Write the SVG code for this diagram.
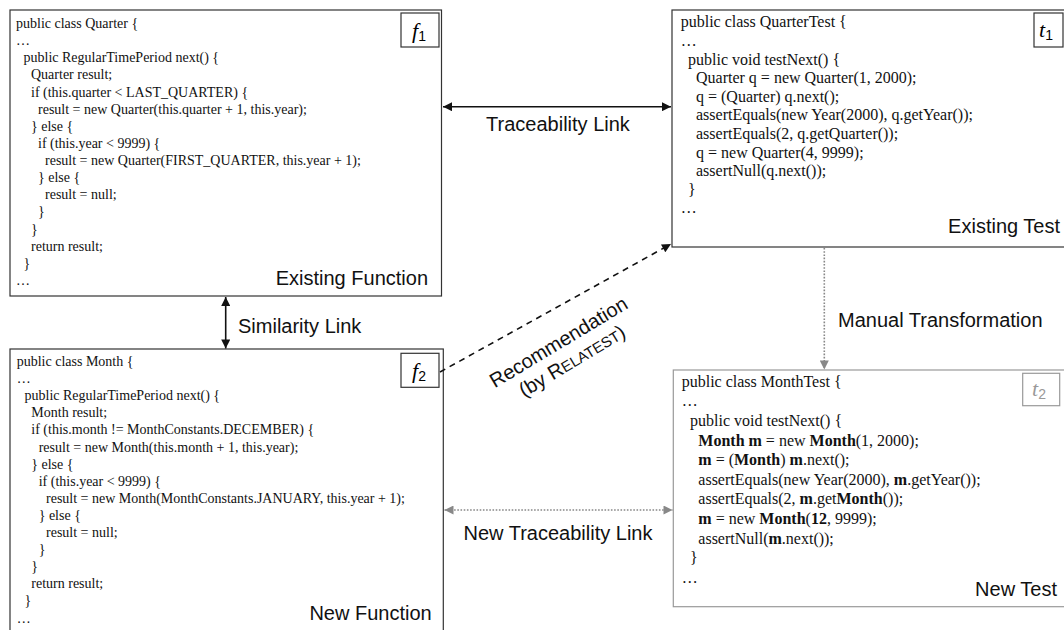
<svg xmlns="http://www.w3.org/2000/svg" width="1064" height="630" viewBox="0 0 1064 630">
<defs>
<style>
.code{font-family:"Liberation Serif","Times New Roman",serif;font-size:14px;fill:#111;}
.code16{font-family:"Liberation Serif","Times New Roman",serif;font-size:16px;fill:#111;}
.b{font-weight:bold;}
.lbl{font-family:"Liberation Sans",Arial,sans-serif;font-size:20px;fill:#111;}
.box{fill:#fff;stroke:#333;stroke-width:1.2;}
.gbox{fill:#fff;stroke:#999;stroke-width:1.2;}
.tag{fill:#fff;stroke:#333;stroke-width:1.2;}
.gtag{fill:#fff;stroke:#999;stroke-width:1.2;}
.mi{font-family:"Liberation Serif","Times New Roman",serif;font-style:italic;font-size:22px;}
.sub{font-family:"Liberation Sans",Arial,sans-serif;font-style:normal;font-size:14px;}
.solid{stroke:#111;stroke-width:1.6;fill:none;}
.dash{stroke:#111;stroke-width:1.6;fill:none;stroke-dasharray:6 5;}
.dot{stroke:#888;stroke-width:1.6;fill:none;stroke-dasharray:1.6 1.6;}
</style>
<marker id="ah" viewBox="0 0 10 10" refX="10" refY="5" markerWidth="10" markerHeight="9" markerUnits="userSpaceOnUse" orient="auto-start-reverse"><path d="M0,0 L10,5 L0,10 z" fill="#111"/></marker>
<marker id="ahg" viewBox="0 0 10 10" refX="10" refY="5" markerWidth="10" markerHeight="9" markerUnits="userSpaceOnUse" orient="auto-start-reverse"><path d="M0,0 L10,5 L0,10 z" fill="#888"/></marker>
</defs>
<rect width="1064" height="630" fill="#fff"/>

<g id="f1">
<rect class="box" x="10" y="10" width="431.5" height="286"/>
<rect class="tag" x="401" y="13" width="38" height="34"/>
<text x="412" y="38" class="mi">f<tspan class="sub" dy="3">1</tspan></text>
<g class="code">
<text x="16" y="28">public class Quarter {</text>
<text x="16" y="45.1">…</text>
<text x="23.5" y="62.3">public RegularTimePeriod next() {</text>
<text x="31" y="79.4">Quarter result;</text>
<text x="31" y="96.5">if (this.quarter &lt; LAST_QUARTER) {</text>
<text x="38" y="113.7">result = new Quarter(this.quarter + 1, this.year);</text>
<text x="31" y="130.8">} else {</text>
<text x="38" y="147.9">if (this.year &lt; 9999) {</text>
<text x="45" y="165">result = new Quarter(FIRST_QUARTER, this.year + 1);</text>
<text x="38" y="182.2">} else {</text>
<text x="45" y="199.3">result = null;</text>
<text x="38" y="216.4">}</text>
<text x="31" y="233.6">}</text>
<text x="31" y="250.7">return result;</text>
<text x="23.5" y="267.8">}</text>
<text x="16" y="285">…</text>
</g>
<text class="lbl" x="428" y="285" text-anchor="end">Existing Function</text>
</g>

<g id="t1">
<rect class="box" x="672" y="10" width="400" height="237"/>
<rect class="tag" x="1034" y="13" width="29" height="34"/>
<text x="1039" y="37" class="mi">t<tspan class="sub" dy="3">1</tspan></text>
<g class="code16">
<text x="680.7" y="27.3">public class QuarterTest {</text>
<text x="680.7" y="45.9">…</text>
<text x="688" y="64.5">public void testNext() {</text>
<text x="696" y="83.1">Quarter q = new Quarter(1, 2000);</text>
<text x="696" y="101.7">q = (Quarter) q.next();</text>
<text x="696" y="120.3">assertEquals(new Year(2000), q.getYear());</text>
<text x="696" y="138.9">assertEquals(2, q.getQuarter());</text>
<text x="696" y="157.5">q = new Quarter(4, 9999);</text>
<text x="696" y="176.1">assertNull(q.next());</text>
<text x="688" y="194.7">}</text>
<text x="680.7" y="213.3">…</text>
</g>
<text class="lbl" x="1060" y="233" text-anchor="end">Existing Test</text>
</g>

<g id="f2">
<rect class="box" x="10" y="349" width="433.3" height="300"/>
<rect class="tag" x="401" y="353.3" width="38" height="34"/>
<text x="412" y="378" class="mi">f<tspan class="sub" dy="3">2</tspan></text>
<g class="code">
<text x="16.7" y="366">public class Month {</text>
<text x="16.7" y="383.1">…</text>
<text x="24.5" y="400.2">public RegularTimePeriod next() {</text>
<text x="31.3" y="417.3">Month result;</text>
<text x="31.3" y="434.4">if (this.month != MonthConstants.DECEMBER) {</text>
<text x="38.7" y="451.5">result = new Month(this.month + 1, this.year);</text>
<text x="31.3" y="468.6">} else {</text>
<text x="38.7" y="485.7">if (this.year &lt; 9999) {</text>
<text x="46" y="502.8">result = new Month(MonthConstants.JANUARY, this.year + 1);</text>
<text x="38.7" y="519.9">} else {</text>
<text x="46" y="537">result = null;</text>
<text x="38.7" y="554.1">}</text>
<text x="31.3" y="571.2">}</text>
<text x="31.3" y="588.3">return result;</text>
<text x="24.5" y="605.4">}</text>
<text x="16.7" y="622.5">…</text>
</g>
<text class="lbl" x="431.7" y="620" text-anchor="end">New Function</text>
</g>

<g id="t2">
<rect class="gbox" x="673.3" y="370" width="400" height="236.7"/>
<rect class="gtag" x="1022.7" y="373.3" width="37" height="32.4"/>
<text x="1032" y="396" class="mi" fill="#999">t<tspan class="sub" dy="3">2</tspan></text>
<g class="code16">
<text x="681.7" y="386.7">public class MonthTest {</text>
<text x="681.7" y="406.3">…</text>
<text x="690" y="425.9">public void testNext() {</text>
<text x="698.3" y="445.5"><tspan class="b">Month m</tspan> = new <tspan class="b">Month</tspan>(1, 2000);</text>
<text x="698.3" y="465.1"><tspan class="b">m</tspan> = (<tspan class="b">Month</tspan>) <tspan class="b">m</tspan>.next();</text>
<text x="698.3" y="484.7">assertEquals(new Year(2000), <tspan class="b">m</tspan>.getYear());</text>
<text x="698.3" y="504.3">assertEquals(2, <tspan class="b">m</tspan>.get<tspan class="b">Month</tspan>());</text>
<text x="698.3" y="523.9"><tspan class="b">m</tspan> = new <tspan class="b">Month</tspan>(<tspan class="b">12</tspan>, 9999);</text>
<text x="698.3" y="543.5">assertNull(<tspan class="b">m</tspan>.next());</text>
<text x="690" y="563.1">}</text>
<text x="681.7" y="582.7">…</text>
</g>
<text class="lbl" x="1057" y="596" text-anchor="end">New Test</text>
</g>

<g id="connectors">
<line class="solid" x1="443" y1="106.7" x2="671" y2="106.7" marker-start="url(#ah)" marker-end="url(#ah)"/>
<text class="lbl" x="558" y="131" text-anchor="middle">Traceability Link</text>
<line class="solid" x1="225.7" y1="297" x2="225.7" y2="348.5" marker-start="url(#ah)" marker-end="url(#ah)"/>
<text class="lbl" x="238" y="333">Similarity Link</text>
<line class="dash" x1="440" y1="372" x2="671" y2="244" marker-end="url(#ah)"/>
<g transform="translate(562,348) rotate(-31)">
<text class="lbl" x="0" y="0" text-anchor="middle">Recommendation</text>
<text class="lbl" x="2" y="23" text-anchor="middle">(by R<tspan font-size="15">ELATEST</tspan>)</text>
</g>
<line class="dot" x1="824.3" y1="248" x2="824.3" y2="369.5" marker-end="url(#ahg)"/>
<text class="lbl" x="838" y="327">Manual Transformation</text>
<line class="dot" x1="444.5" y1="510" x2="672.5" y2="510" marker-start="url(#ahg)" marker-end="url(#ahg)"/>
<text class="lbl" x="558" y="540" text-anchor="middle">New Traceability Link</text>
</g>
</svg>
